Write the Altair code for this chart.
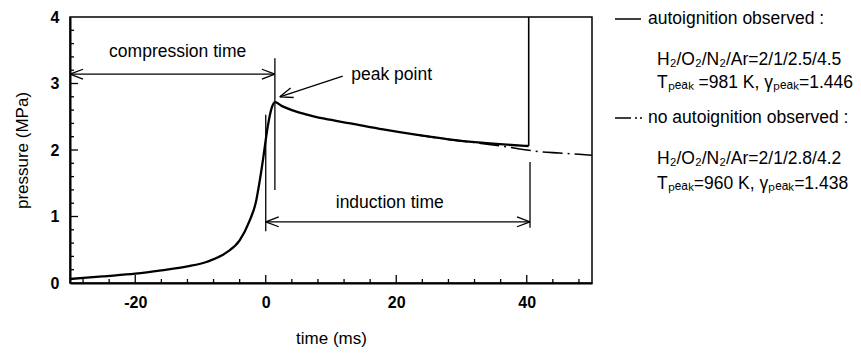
import altair as alt
import pandas as pd

# Pressure trace of the run with autoignition (time in ms, pressure in MPa)
t_auto = [-30, -25, -20, -16, -12, -9, -6, -4, -2.5, -1.5, -0.9, -0.4, 0.3, 0.9, 1.4,
          2.5, 4, 6, 9, 13, 18, 23, 28, 33, 37, 40.3]
p_auto = [0.06, 0.10, 0.14, 0.19, 0.25, 0.32, 0.46, 0.64, 0.93, 1.22, 1.55, 1.87, 2.35, 2.63, 2.72,
          2.66, 2.60, 2.54, 2.47, 2.40, 2.31, 2.23, 2.16, 2.11, 2.08, 2.06]
# pressure jump at ignition
t_jump = [40.3, 40.3]
p_jump = [2.06, 4.0]

# Pressure trace of the run without autoignition
t_noauto = [23, 28, 33, 36, 38, 40, 42, 45, 48, 50]
p_noauto = [2.23, 2.16, 2.10, 2.06, 2.03, 2.00, 1.975, 1.955, 1.935, 1.92]

# Axis ticks
x_major = [-20, 0, 20, 40]
x_minor = [-28, -24, -16, -12, -8, -4, 4, 8, 12, 16, 24, 28, 32, 36, 44, 48]
y_major = [1, 2, 3]
y_minor = [0.2, 0.4, 0.6, 0.8, 1.2, 1.4, 1.6, 1.8, 2.2, 2.4, 2.6, 2.8, 3.2, 3.4, 3.6, 3.8]

# Annotation geometry (data units)
t_compression = [-30, 1.4]
p_compression = 3.14
t_induction = [0, 40.5]
p_induction = 0.92
peak_arrow_from = (11.8, 3.11)
peak_arrow_to = (2.15, 2.80)
marker_lines = [  # (t, p_low, p_high)
    (0.0, 0.78, 2.53),
    (1.4, 1.40, 3.38),
    (40.5, 0.83, 1.82),
]
labels = [
    ("compression time", -13.5, 3.47),
    ("peak point", 19.3, 3.13),
    ("induction time", 19.0, 1.20),
]

W, H = 522, 266
FONT = "Liberation Sans, Arial, sans-serif"
TXT = 17.5

xs = alt.Scale(domain=[-30, 50], nice=False, zero=False)
ys = alt.Scale(domain=[0, 4], nice=False, zero=False)
xaxis = alt.Axis(values=x_major, title="time (ms)", ticks=False, tickSize=0,
                 labelPadding=11, titlePadding=20, labelExpr="'' + datum.value")
yaxis = alt.Axis(values=[0, 1, 2, 3, 4], title="pressure (MPa)", ticks=False, tickSize=0,
                 labelPadding=11, titlePadding=19, labelExpr="'' + datum.value")
X = alt.X("t:Q", scale=xs, axis=xaxis)
Y = alt.Y("p:Q", scale=ys, axis=yaxis)

auto_df = pd.DataFrame({"t": t_auto, "p": p_auto})
jump_df = pd.DataFrame({"t": t_jump, "p": p_jump})
noauto_df = pd.DataFrame({"t": t_noauto, "p": p_noauto})

noauto = alt.Chart(noauto_df).mark_line(
    color="black", strokeWidth=1.6, strokeDash=[20, 5, 2, 5], interpolate="monotone"
).encode(x=X, y=Y)
auto = alt.Chart(auto_df).mark_line(
    color="black", strokeWidth=2.3, interpolate="monotone"
).encode(x=X, y=Y)
jump = alt.Chart(jump_df).mark_line(color="black", strokeWidth=1.6).encode(x=X, y=Y)

# Straight annotation lines
seg_rows = [
    {"t": t_compression[0], "p": p_compression, "t2": t_compression[1], "p2": p_compression},
    {"t": t_induction[0], "p": p_induction, "t2": t_induction[1], "p2": p_induction},
    {"t": peak_arrow_from[0], "p": peak_arrow_from[1], "t2": peak_arrow_to[0], "p2": peak_arrow_to[1]},
]
for t, lo, hi in marker_lines:
    seg_rows.append({"t": t, "p": lo, "t2": t, "p2": hi})
segs = alt.Chart(pd.DataFrame(seg_rows)).mark_rule(color="black", strokeWidth=1.3).encode(
    x=X, y=Y, x2="t2:Q", y2="p2:Q"
)

# Open arrowheads
head_rows = [
    {"t": t_compression[0], "p": p_compression, "ang": 180},
    {"t": t_compression[1], "p": p_compression, "ang": 0},
    {"t": t_induction[0], "p": p_induction, "ang": 180},
    {"t": t_induction[1], "p": p_induction, "ang": 0},
    {"t": peak_arrow_to[0], "p": peak_arrow_to[1], "ang": 162},
]
heads = alt.Chart(pd.DataFrame(head_rows)).mark_point(
    shape="M0,0L-1,-0.38M0,0L-1,0.38", filled=False, stroke="black", strokeWidth=1.3,
    size=676, opacity=1
).encode(x=X, y=Y, angle=alt.Angle("ang:Q", scale=None))

text_df = pd.DataFrame(labels, columns=["label", "t", "p"])
texts = alt.Chart(text_df).mark_text(
    font=FONT, fontSize=TXT, color="black", align="center", baseline="middle"
).encode(x=X, y=Y, text="label:N")

# Legend beside the plot (pixel positions relative to the plot area)
leg_x0, leg_x1, leg_tx = 545, 571, 578
leg_rows = [
    ("autoignition observed :", 2),
    ("H\u2082/O\u2082/N\u2082/Ar=2/1/2.5/4.5", 43),
    ("T\u209a\u2091\u2090\u2096 =981 K, \u03b3\u209a\u2091\u2090\u2096=1.446", 66),
    ("no autoignition observed :", 101),
    ("H\u2082/O\u2082/N\u2082/Ar=2/1/2.8/4.2", 142),
    ("T\u209a\u2091\u2090\u2096=960 K, \u03b3\u209a\u2091\u2090\u2096=1.438", 167),
]
legend_layers = []
for i, (txt, yy) in enumerate(leg_rows):
    legend_layers.append(
        alt.Chart(pd.DataFrame({"label": [txt]})).mark_text(
            font=FONT, fontSize=TXT, color="black", align="left", baseline="middle"
        ).encode(
            x=alt.value(leg_tx if i in (0, 3) else leg_tx + 9),
            y=alt.value(yy),
            text="label:N",
        )
    )
sample_solid = alt.Chart(pd.DataFrame({"k": [0]})).mark_rule(color="black", strokeWidth=1.5).encode(
    x=alt.value(leg_x0), x2=alt.value(leg_x1), y=alt.value(leg_rows[0][1])
)
sample_dash = alt.Chart(pd.DataFrame({"k": [0]})).mark_rule(
    color="black", strokeWidth=1.5, strokeDash=[16, 4, 2, 3, 2, 40]
).encode(x=alt.value(leg_x0), x2=alt.value(leg_x1 + 2), y=alt.value(leg_rows[3][1]))

# Inward tick marks
xmaj = alt.Chart(pd.DataFrame({"t": x_major})).mark_rule(color="black", strokeWidth=1.3).encode(
    x=X, y=alt.value(H), y2=alt.value(H - 8))
xmin = alt.Chart(pd.DataFrame({"t": x_minor})).mark_rule(color="black", strokeWidth=1.3).encode(
    x=X, y=alt.value(H), y2=alt.value(H - 4))
ymaj = alt.Chart(pd.DataFrame({"p": y_major})).mark_rule(color="black", strokeWidth=1.3).encode(
    y=Y, x=alt.value(0), x2=alt.value(8))
ymin = alt.Chart(pd.DataFrame({"p": y_minor})).mark_rule(color="black", strokeWidth=1.3).encode(
    y=Y, x=alt.value(0), x2=alt.value(4))

chart = alt.layer(
    xmaj, xmin, ymaj, ymin, noauto, auto, jump, segs, heads, texts,
    sample_solid, sample_dash, *legend_layers
).properties(
    width=W, height=H,
    autosize=alt.AutoSizeParams(type="none"),
    padding={"left": 70, "top": 17, "right": 861 - 70 - W, "bottom": 359 - 17 - H},
    background="white",
).configure_view(
    stroke="black", strokeWidth=1.5
).configure_axis(
    grid=False, domainColor="black", domainWidth=2,
    labelFont=FONT, labelFontSize=16, labelFontWeight="bold", labelColor="black",
    titleFont=FONT, titleFontSize=17, titleFontWeight="normal", titleColor="black",
)

chart.save("out.html", embed_options={"renderer": "svg", "actions": False})
